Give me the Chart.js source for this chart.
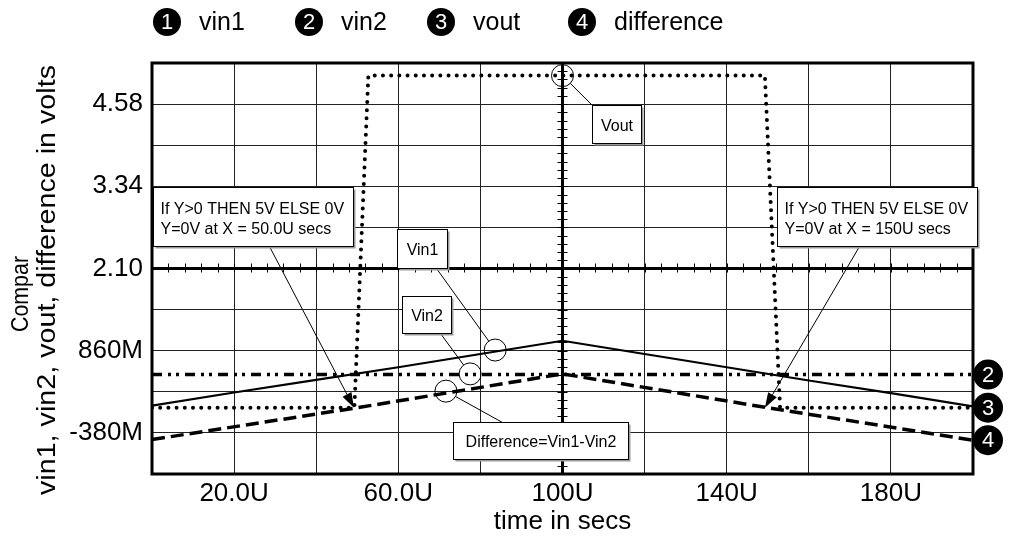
<!DOCTYPE html>
<html>
<head>
<meta charset="utf-8">
<script src="https://cdn.jsdelivr.net/npm/chart.js@4"></script>
<style>
  html, body { margin: 0; padding: 0; background: #fff; }
  #wrap { width: 1011px; height: 539px; }
</style>
</head>
<body>
<div id="wrap"><canvas id="comparChart"></canvas></div>
<script>
const FONT = '"Liberation Sans", Arial, sans-serif';

// series (time in µs, volts)
const vin1Times = [0, 20, 40, 60, 80, 100, 120, 140, 160, 180, 200];
const vin1 = [0.03, 0.23, 0.42, 0.61, 0.81, 1.01, 0.81, 0.61, 0.41, 0.22, 0.02];
const vin2Times = [0, 200];
const vin2 = [0.5, 0.5];
const voutTimes = [0, 49.3, 52.7, 149.3, 153, 200];
const vout = [0, 0, 5.01, 5.01, 0, 0];
const diffTimes = [0, 50, 100, 150, 200];
const difference = [-0.48, 0.0, 0.51, 0.0, -0.49];

const seriesNames = ['vin1', 'vin2', 'vout', 'difference'];

// axes
const yGrid = [-1.0, -0.38, 0.24, 0.86, 1.48, 2.10, 2.72, 3.34, 3.96, 4.58, 5.20];
const yTicks = [-0.38, 0.86, 2.10, 3.34, 4.58];
const yTickLabels = ['-380M', '860M', '2.10', '3.34', '4.58'];
const xTicks = [20, 60, 100, 140, 180];
const xTickLabels = ['20.0U', '60.0U', '100U', '140U', '180U'];

const pts = (xs, ys) => xs.map((x, i) => ({ x: x, y: ys[i] }));

// callouts: box anchored at (t, v) top-left, link from a box point to a target
const notes = [
  { lines: ['If Y>0 THEN 5V ELSE 0V', 'Y=0V at X = 50.0U secs'], t: 0.2, v: 3.33, w: 200, h: 59,
    from: [116, 59], to: [49.2, 0.0], kind: 'arrow' },
  { lines: ['If Y>0 THEN 5V ELSE 0V', 'Y=0V at X = 150U secs'], t: 152.3, v: 3.33, w: 200, h: 59,
    from: [82, 59], to: [149.3, 0.0], kind: 'arrow' },
  { lines: ['Vin1'], t: 59.7, v: 2.70, w: 50, h: 39, from: [39, 39], to: [83.6, 0.87], kind: 'circle' },
  { lines: ['Vin2'], t: 60.9, v: 1.685, w: 49, h: 37, from: [38, 37], to: [77.5, 0.51], kind: 'circle' },
  { lines: ['Difference=Vin1-Vin2'], t: 73.3, v: -0.216, w: 175, h: 37, from: [49, 0], to: [71.6, 0.25], kind: 'circle' },
  { lines: ['Vout'], t: 107.2, v: 4.566, w: 49, h: 38, from: [0, 0], to: [100, 5.01], kind: 'circle' }
];

function badge(ctx, x, y, r, n) {
  ctx.beginPath();
  ctx.arc(x, y, r, 0, Math.PI * 2);
  ctx.fillStyle = '#000';
  ctx.fill();
  ctx.fillStyle = '#fff';
  ctx.font = '22px ' + FONT;
  ctx.textAlign = 'center';
  ctx.textBaseline = 'middle';
  ctx.fillText(String(n), x, y + 1);
}

function vtext(ctx, s, cx, cy, size, len) {
  ctx.save();
  ctx.font = size + 'px ' + FONT;
  ctx.textAlign = 'center';
  ctx.textBaseline = 'middle';
  ctx.translate(cx, cy);
  ctx.rotate(-Math.PI / 2);
  const w = ctx.measureText(s).width;
  ctx.scale(len / w, 1);
  ctx.fillText(s, 0, 0);
  ctx.restore();
}

const schematic = {
  id: 'schematic',
  beforeDatasetsDraw(chart) {
    const { ctx, chartArea: a, scales: { x, y } } = chart;
    ctx.save();
    ctx.strokeStyle = '#000';
    // heavy centre axes with minor ticks
    const y0 = y.getPixelForValue(2.10);
    const x0 = x.getPixelForValue(100);
    ctx.lineWidth = 3;
    ctx.beginPath();
    ctx.moveTo(a.left, y0); ctx.lineTo(a.right, y0);
    ctx.moveTo(x0, a.top); ctx.lineTo(x0, a.bottom);
    ctx.stroke();
    ctx.lineWidth = 1;
    ctx.beginPath();
    for (let t = 4; t < 200; t += 4) {
      const px = Math.round(x.getPixelForValue(t)) + 0.5;
      ctx.moveTo(px, y0 - 5); ctx.lineTo(px, y0 + 4);
    }
    for (let k = 1; k < 50; k++) {
      const py = Math.round(y.getPixelForValue(-1 + k * 0.124)) + 0.5;
      ctx.moveTo(x0 - 5, py); ctx.lineTo(x0 + 5, py);
    }
    ctx.stroke();
    ctx.restore();
  },
  afterDraw(chart) {
    const { ctx, chartArea: a, scales: { x, y } } = chart;
    ctx.save();
    // frame
    ctx.strokeStyle = '#000';
    ctx.lineWidth = 3;
    ctx.strokeRect(a.left, a.top, a.right - a.left, a.bottom - a.top);

    // callouts
    notes.forEach(n => {
      const bx = Math.round(x.getPixelForValue(n.t)) + 0.5;
      const by = Math.round(y.getPixelForValue(n.v)) + 0.5;
      const sx = bx + n.from[0], sy = by + n.from[1];
      const tx = x.getPixelForValue(n.to[0]), ty = y.getPixelForValue(n.to[1]);
      ctx.strokeStyle = '#000';
      ctx.fillStyle = '#000';
      ctx.lineWidth = 1;
      if (n.kind === 'arrow') {
        const ang = Math.atan2(ty - sy, tx - sx);
        const L = 15, W = 5;
        ctx.beginPath();
        ctx.moveTo(sx, sy);
        ctx.lineTo(tx - Math.cos(ang) * L, ty - Math.sin(ang) * L);
        ctx.stroke();
        ctx.beginPath();
        ctx.moveTo(tx, ty);
        ctx.lineTo(tx - Math.cos(ang) * L - Math.sin(ang) * W, ty - Math.sin(ang) * L + Math.cos(ang) * W);
        ctx.lineTo(tx - Math.cos(ang) * L + Math.sin(ang) * W, ty - Math.sin(ang) * L - Math.cos(ang) * W);
        ctx.closePath();
        ctx.fill();
      } else {
        const r = 11;
        const ang = Math.atan2(sy - ty, sx - tx);
        ctx.beginPath();
        ctx.moveTo(sx, sy);
        ctx.lineTo(tx + Math.cos(ang) * r, ty + Math.sin(ang) * r);
        ctx.stroke();
        ctx.beginPath();
        ctx.arc(tx, ty, r, 0, Math.PI * 2);
        ctx.stroke();
      }
      // box with a faint shadow
      ctx.fillStyle = '#9a9a9a';
      ctx.fillRect(bx + 2, by + 2, n.w, n.h);
      ctx.fillStyle = '#fff';
      ctx.fillRect(bx, by, n.w, n.h);
      ctx.strokeRect(bx, by, n.w, n.h);
      ctx.fillStyle = '#000';
      ctx.font = '16px ' + FONT;
      ctx.textBaseline = 'alphabetic';
      if (n.lines.length > 1) {
        ctx.textAlign = 'left';
        n.lines.forEach((s, i) => ctx.fillText(s, bx + 7, by + 26 + i * 20));
      } else {
        ctx.textAlign = 'center';
        ctx.fillText(n.lines[0], bx + n.w / 2, by + n.h / 2 + 6);
      }
    });

    // legend across the top
    const legX = [167, 309, 441, 582];
    seriesNames.forEach((s, i) => {
      badge(ctx, legX[i], 22, 14, i + 1);
      ctx.fillStyle = '#000';
      ctx.font = '25px ' + FONT;
      ctx.textAlign = 'left';
      ctx.textBaseline = 'middle';
      ctx.fillText(s, legX[i] + 32, 23);
    });

    // trace end markers
    chart.data.datasets.forEach((ds, i) => {
      if (i === 0) return;
      const last = ds.data[ds.data.length - 1];
      badge(ctx, a.right + 15, y.getPixelForValue(last.y), 15, i + 1);
    });

    // y axis title (two lines)
    ctx.fillStyle = '#000';
    vtext(ctx, 'Compar', 21, 294, 24, 76);
    vtext(ctx, 'vin1, vin2, vout, difference in volts', 48, 280, 26, 430);
    ctx.restore();
  }
};

new Chart(document.getElementById('comparChart'), {
  type: 'line',
  data: {
    datasets: [
      { label: 'vin1', data: pts(vin1Times, vin1), borderColor: '#000', borderWidth: 2.2 },
      { label: 'vin2', data: pts(vin2Times, vin2), borderColor: '#000', borderWidth: 3.5,
        borderDash: [10, 6, 3, 5, 3, 6] },
      { label: 'vout', data: pts(voutTimes, vout), borderColor: '#000', borderWidth: 4,
        borderDash: [0, 8.2], borderCapStyle: 'round', borderJoinStyle: 'round' },
      { label: 'difference', data: pts(diffTimes, difference), borderColor: '#000', borderWidth: 3.5,
        borderDash: [13, 6] }
    ]
  },
  options: {
    responsive: true,
    maintainAspectRatio: false,
    animation: false,
    elements: { point: { radius: 0 }, line: { tension: 0, fill: false } },
    layout: { padding: { top: 63, right: 38, left: 0, bottom: 0 } },
    plugins: { legend: { display: false }, tooltip: { enabled: false } },
    scales: {
      x: {
        type: 'linear', min: 0, max: 200,
        afterFit: s => { s.height = 65; },
        ticks: {
          stepSize: 20, autoSkip: false, maxRotation: 0, padding: 4,
          color: '#000', font: { family: FONT, size: 26 },
          callback: v => { const i = xTicks.indexOf(v); return i < 0 ? '' : xTickLabels[i]; }
        },
        grid: { color: '#222', lineWidth: 1, drawTicks: false },
        border: { display: false },
        title: { display: true, text: 'time in secs', color: '#000',
                 font: { family: FONT, size: 26 }, padding: { top: 0, bottom: 2 } }
      },
      y: {
        type: 'linear', min: -1.0, max: 5.2,
        afterFit: s => { s.width = 152; },
        afterBuildTicks: s => { s.ticks = yGrid.map(v => ({ value: v })); },
        ticks: {
          autoSkip: false, padding: 9,
          color: '#000', font: { family: FONT, size: 26 },
          callback: v => {
            const i = yTicks.findIndex(t => Math.abs(t - v) < 1e-6);
            return i < 0 ? '' : yTickLabels[i];
          }
        },
        grid: { color: '#222', lineWidth: 1, drawTicks: false },
        border: { display: false }
      }
    }
  },
  plugins: [schematic]
});
</script>
</body>
</html>
